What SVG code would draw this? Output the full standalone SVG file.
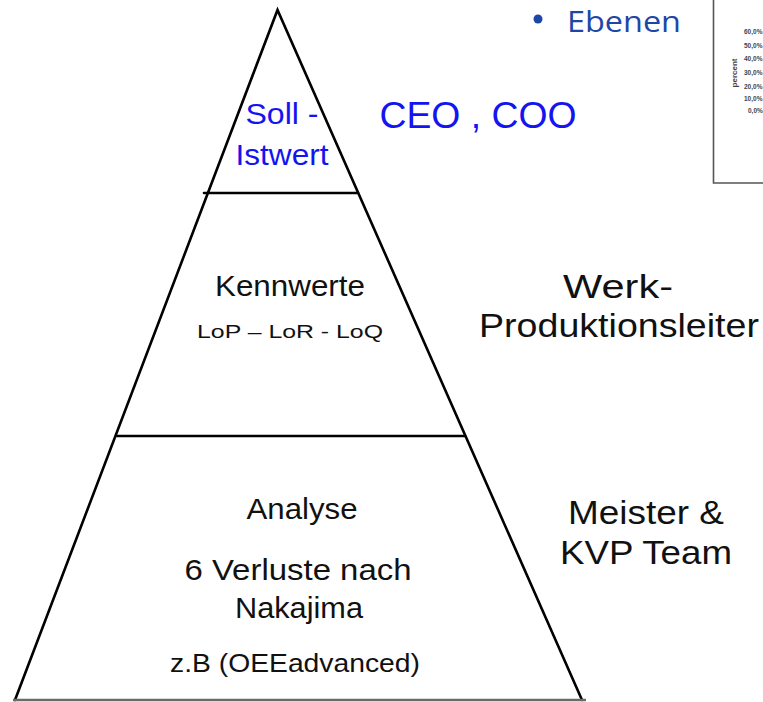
<svg xmlns="http://www.w3.org/2000/svg" width="763" height="702" viewBox="0 0 763 702">
  <style>
    .edge { stroke: #000; stroke-width: 2.6; fill: none; stroke-linecap: round; }
    .base { stroke: #6a6a6a; stroke-width: 2.4; fill: none; }
    .lbl { fill: #111; text-anchor: middle; }
    .blue { fill: #1414f0; }
    .tick { font-size: 6.5px; font-weight: bold; fill: #444; }
  </style>

  <rect width="763" height="702" fill="#fff"/>

  <g font-family="Liberation Sans, Arimo, Arial, Helvetica, sans-serif">
    <!-- small chart excerpt, top right -->
    <g id="chart">
      <path d="M713.5,-2 V183 H765" fill="none" stroke="#555" stroke-width="1.6"/>
      <text class="tick" x="744" y="34">60,0%</text>
      <text class="tick" x="744" y="48">50,0%</text>
      <text class="tick" x="744" y="61">40,0%</text>
      <text class="tick" x="744" y="75">30,0%</text>
      <text class="tick" x="744" y="89">20,0%</text>
      <text class="tick" x="744" y="101">10,0%</text>
      <text class="tick" x="748" y="113">0,0%</text>
      <text class="tick" transform="translate(737,73) rotate(-90)" text-anchor="middle" style="font-size:8px">percent</text>
    </g>

    <!-- heading bullet -->
    <g id="heading">
      <circle cx="538" cy="19" r="4.5" fill="#1d47a6"/>
      <text x="567" y="32" font-family="Open Sans, Noto Sans, sans-serif" font-size="30" fill="#1d47a6" textLength="114" lengthAdjust="spacingAndGlyphs">Ebenen</text>
    </g>

    <!-- pyramid outline and tier dividers -->
    <g id="connectors">
      <path class="edge" d="M15,700 L277.5,10 L582,700"/>
      <line class="edge" x1="204" y1="193" x2="358" y2="193"/>
      <line class="edge" x1="117" y1="436" x2="465" y2="436"/>
      <line class="base" x1="13" y1="700" x2="586" y2="700"/>
    </g>

    <!-- top tier -->
    <g id="tier-top">
      <text class="lbl blue" x="282" y="124" font-size="30" textLength="73" lengthAdjust="spacingAndGlyphs">Soll -</text>
      <text class="lbl blue" x="282" y="165" font-size="30" textLength="93" lengthAdjust="spacingAndGlyphs">Istwert</text>
    </g>

    <!-- middle tier -->
    <g id="tier-middle">
      <text class="lbl" x="290" y="296" font-size="29" textLength="150" lengthAdjust="spacingAndGlyphs">Kennwerte</text>
      <text class="lbl" x="290" y="338" font-size="19" textLength="186" lengthAdjust="spacingAndGlyphs">LoP – LoR - LoQ</text>
    </g>

    <!-- bottom tier -->
    <g id="tier-bottom">
      <text class="lbl" x="302" y="519" font-size="29" textLength="111" lengthAdjust="spacingAndGlyphs">Analyse</text>
      <text class="lbl" x="298" y="580" font-size="30" textLength="227" lengthAdjust="spacingAndGlyphs">6 Verluste  nach</text>
      <text class="lbl" x="299" y="618" font-size="30" textLength="128" lengthAdjust="spacingAndGlyphs">Nakajima</text>
      <text class="lbl" x="295" y="672" font-size="25" textLength="250" lengthAdjust="spacingAndGlyphs">z.B (OEEadvanced)</text>
    </g>

    <!-- role labels -->
    <g id="role-top">
      <text class="lbl blue" x="478" y="128" font-size="36" textLength="197" lengthAdjust="spacingAndGlyphs">CEO , COO</text>
    </g>
    <g id="role-middle">
      <text class="lbl" x="618" y="298" font-size="33" textLength="110" lengthAdjust="spacingAndGlyphs">Werk-</text>
      <text class="lbl" x="619" y="337" font-size="33" textLength="280" lengthAdjust="spacingAndGlyphs">Produktionsleiter</text>
    </g>
    <g id="role-bottom">
      <text class="lbl" x="646" y="524" font-size="34" textLength="156" lengthAdjust="spacingAndGlyphs">Meister &amp;</text>
      <text class="lbl" x="646" y="564" font-size="34" textLength="172" lengthAdjust="spacingAndGlyphs">KVP Team</text>
    </g>
  </g>
</svg>
